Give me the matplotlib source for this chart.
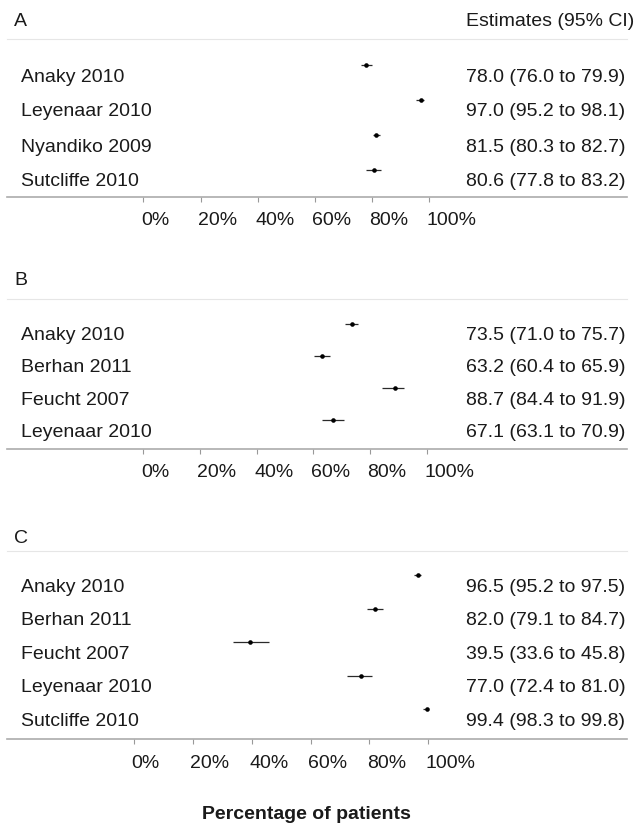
import matplotlib
matplotlib.use("Agg")
import matplotlib.pyplot as plt
from matplotlib.transforms import ScaledTranslation

plt.rcParams['font.family'] = ['Liberation Sans', 'DejaVu Sans']

# ---------------- data ----------------
panel_names = ["A", "B", "C"]

studies_A = ["Anaky 2010", "Leyenaar 2010", "Nyandiko 2009", "Sutcliffe 2010"]
est_A = [78.0, 97.0, 81.5, 80.6]
lo_A = [76.0, 95.2, 80.3, 77.8]
hi_A = [79.9, 98.1, 82.7, 83.2]

studies_B = ["Anaky 2010", "Berhan 2011", "Feucht 2007", "Leyenaar 2010"]
est_B = [73.5, 63.2, 88.7, 67.1]
lo_B = [71.0, 60.4, 84.4, 63.1]
hi_B = [75.7, 65.9, 91.9, 70.9]

studies_C = ["Anaky 2010", "Berhan 2011", "Feucht 2007", "Leyenaar 2010", "Sutcliffe 2010"]
est_C = [96.5, 82.0, 39.5, 77.0, 99.4]
lo_C = [95.2, 79.1, 33.6, 72.4, 98.3]
hi_C = [97.5, 84.7, 45.8, 81.0, 99.8]

tick_values = [0, 20, 40, 60, 80, 100]
tick_labels = ["0%", "20%", "40%", "60%", "80%", "100%"]
header_right = "Estimates (95% CI)"
x_label = "Percentage of patients"

# ---------------- layout (pixels) ----------------
W, H = 639, 824
DPI = 100
FS = 14
TXT = '#1a1a1a'

layouts = [
    dict(zero=143.3, hundred=429.3, head=39.3, axis=196.5, first=65.0, step=35.0, title_base=26, label_gap=15.5),
    dict(zero=143.3, hundred=426.7, head=299.3, axis=449.0, first=323.7, step=32.2, title_base=285, label_gap=14.5),
    dict(zero=134.0, hundred=428.3, head=550.7, axis=738.5, first=575.3, step=33.5, title_base=543, label_gap=17.0),
]
panels = [
    (studies_A, est_A, lo_A, hi_A),
    (studies_B, est_B, lo_B, hi_B),
    (studies_C, est_C, lo_C, hi_C),
]

LEFT_PX, RIGHT_PX = 7, 627
LABEL_X, EST_X, TITLE_X = 21, 466, 14

fig = plt.figure(figsize=(W / DPI, H / DPI), dpi=DPI)
fig.patch.set_facecolor('white')


def fx(x):
    return x / W


def fy(y):
    return 1 - y / H


for p, (name, lay, (studies, est, lo, hi)) in enumerate(zip(panel_names, layouts, panels)):
    ax = fig.add_axes([fx(LEFT_PX), fy(lay['axis']),
                       (RIGHT_PX - LEFT_PX) / W, (lay['axis'] - lay['head']) / H])
    scale = (lay['hundred'] - lay['zero']) / 100.0
    ax.set_xlim((LEFT_PX - lay['zero']) / scale, (RIGHT_PX - lay['zero']) / scale)
    ax.set_ylim(lay['axis'], lay['head'])  # y data in pixel rows
    ax.set_facecolor('none')

    for s in ['left', 'right']:
        ax.spines[s].set_visible(False)
    ax.spines['bottom'].set_color('#ababab')
    ax.spines['bottom'].set_linewidth(1.2)
    ax.spines['top'].set_color('#e6e6e6')
    ax.spines['top'].set_linewidth(0.8)
    ax.set_yticks([])

    ax.set_xticks(tick_values)
    ax.set_xticklabels(tick_labels)
    ax.tick_params(axis='x', length=5 * 72 / DPI, width=0.8, color='#999999',
                   labelsize=FS, labelcolor=TXT,
                   pad=(lay['label_gap'] - 5) * 72 / DPI)
    off = ScaledTranslation(-2.5 / DPI, 0, fig.dpi_scale_trans)
    for lab in ax.get_xticklabels():
        lab.set_horizontalalignment('left')
        lab.set_transform(lab.get_transform() + off)

    ys = [lay['first'] + i * lay['step'] for i in range(len(studies))]
    for y, e, l, h in zip(ys, est, lo, hi):
        ax.plot([l, h], [y, y], color='#2a2a2a', lw=0.9, solid_capstyle='butt', zorder=2)
    ax.plot(est, ys, 'o', color='black', markersize=3.3, markeredgewidth=0, zorder=3)

    for y, st, e, l, h in zip(ys, studies, est, lo, hi):
        fig.text(fx(LABEL_X), fy(y + 16.5), st, fontsize=FS, color=TXT,
                 ha='left', va='baseline')
        fig.text(fx(EST_X), fy(y + 16.5), f"{e:.1f} ({l:.1f} to {h:.1f})",
                 fontsize=FS, color=TXT, ha='left', va='baseline')

    fig.text(fx(TITLE_X), fy(lay['title_base']), name, fontsize=FS, color=TXT,
             ha='left', va='baseline')
    if p == 0:
        fig.text(fx(EST_X), fy(lay['title_base']), header_right, fontsize=FS,
                 color=TXT, ha='left', va='baseline')

fig.text(fx(306), fy(819), x_label, fontsize=FS, fontweight='bold', color=TXT,
         ha='center', va='baseline')

fig.savefig("out.png", dpi=DPI, facecolor='white')
